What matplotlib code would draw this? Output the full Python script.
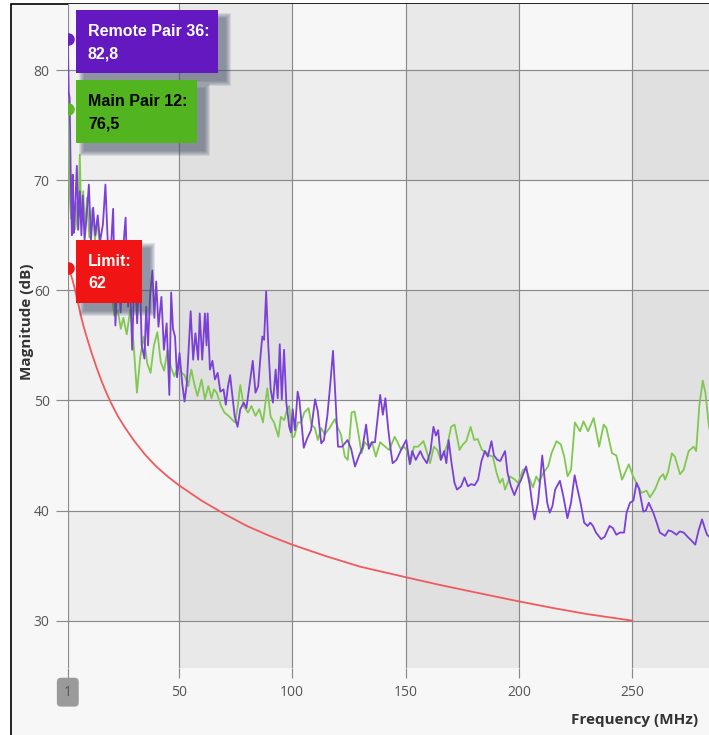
import matplotlib
matplotlib.use("Agg")
import matplotlib.pyplot as plt
from matplotlib.patches import Rectangle

# ---- data ----
remote_freq = [
    1.0, 1.4, 1.8, 2.1, 2.4, 2.8, 3.2, 3.6, 4.2, 5.0, 5.6, 6.3, 7.0, 7.6, 8.4, 9.2,
    10.3, 11.2, 12.2, 13.1, 14.2, 15.2, 16.5, 17.6, 18.6, 19.8, 21.0, 22.0, 23.2, 24.3,
    25.3, 26.5, 27.6, 28.5, 29.4, 30.5, 31.6, 32.6, 33.6, 34.8, 35.6, 36.4, 37.3, 38.3,
    39.2, 40.0, 41.0, 42.3, 43.4, 44.6, 45.8, 46.6, 47.4, 48.3, 49.2, 50.3, 51.5, 52.5,
    53.5, 55.2, 56.3, 57.3, 58.5, 59.2, 60.3, 61.5, 62.2, 62.7, 63.7, 64.8, 65.9, 67.1,
    68.3, 69.7, 70.7, 71.6, 72.6, 73.5, 74.6, 75.9, 77.1, 78.6, 79.8, 81.1, 82.6, 83.8,
    85.0, 86.0, 86.8, 87.6, 88.5, 89.4, 90.5, 91.5, 92.7, 93.6, 94.5, 95.4, 96.4, 97.4,
    98.7, 99.4, 100.2, 101.2, 102.4, 103.2, 105.1, 106.5, 108.3, 110.1, 111.3, 112.8,
    114.0, 115.5, 116.8, 118.0, 119.0, 120.2, 122.0, 124.4, 126.0, 127.7, 129.5, 131.0,
    132.6, 133.8, 135.2, 136.5, 137.8, 138.8, 140.0, 141.1, 142.3, 143.4, 144.3, 146.0,
    148.0, 150.3, 151.9, 152.9, 154.5, 156.5, 157.8, 159.4, 161.0, 162.3, 163.4, 164.4,
    165.6, 167.0, 168.0, 169.0, 170.3, 171.6, 172.7, 174.5, 176.0, 177.5, 179.0, 180.5,
    182.0, 183.5, 185.0, 186.3, 187.9, 189.0, 190.5, 191.8, 193.9, 195.0, 196.5, 198.0,
    199.5, 201.0, 203.2, 204.8, 206.2, 206.9, 208.4, 209.4, 210.3, 211.3, 212.5, 213.6,
    214.8, 216.0, 218.1, 219.6, 221.4, 223.0, 224.6, 225.8, 227.2, 228.8, 230.3, 231.5,
    232.7, 234.0, 236.3, 237.8, 240.0, 241.5, 243.0, 244.6, 246.4, 247.5, 249.0, 250.5,
    251.9, 253.0, 254.9, 256.0, 257.3, 259.3, 260.8, 262.2, 264.5, 266.0, 267.5, 269.5,
    271.0, 272.7, 274.5, 276.0, 277.8, 279.3, 280.8, 282.0, 283.0, 285.2, 287.0,
]
remote_db = [
    82.8, 78.0, 77.5, 73.0, 69.0, 65.0, 70.5, 65.2, 67.5, 71.3, 65.5, 69.0, 65.0, 68.6, 64.5, 66.5,
    69.6, 64.5, 67.5, 65.0, 66.8, 64.4, 66.0, 69.6, 64.5, 63.0, 67.4, 56.8, 62.5, 58.0,
    63.5, 66.6, 58.5, 60.5, 54.6, 62.5, 57.0, 63.0, 55.0, 53.8, 58.5, 55.0, 59.5, 61.8,
    57.5, 60.8, 56.7, 59.4, 54.6, 57.0, 50.5, 59.8, 56.5, 55.8, 52.1, 54.3, 51.5, 49.9,
    51.5, 58.1, 53.7, 56.1, 53.7, 57.9, 53.7, 57.9, 55.0, 57.9, 52.8, 53.6, 51.9, 52.5,
    50.8, 51.0, 49.6, 51.2, 52.3, 50.6, 48.6, 47.6, 49.2, 49.8, 49.3, 51.3, 53.6, 50.7,
    51.3, 54.0, 55.8, 55.5, 59.9, 55.2, 51.0, 49.8, 52.8, 50.2, 55.1, 50.1, 54.6, 49.8,
    47.6, 47.1, 49.2, 47.3, 50.8, 50.0, 45.7, 46.5, 47.3, 50.1, 49.0, 46.1,
    46.4, 48.6, 51.5, 54.5, 50.5, 45.8, 45.8, 46.4, 45.6, 44.0, 45.0, 45.7,
    47.8, 45.6, 46.2, 46.2, 48.6, 50.5, 48.7, 50.2, 47.5, 45.6, 44.3, 44.6,
    45.5, 46.4, 44.2, 45.4, 44.6, 45.4, 44.8, 44.3, 45.4, 47.6, 46.8, 47.3,
    44.6, 45.4, 44.3, 46.4, 44.3, 42.5, 41.9, 42.2, 43.0, 42.2, 42.4, 42.3,
    42.8, 44.5, 45.4, 44.9, 46.3, 45.0, 44.6, 44.5, 45.4, 43.4, 42.2, 41.4,
    42.2, 42.8, 44.0, 42.3, 40.1, 39.2, 40.7, 42.8, 45.0, 43.0, 40.7, 39.8,
    40.4, 41.9, 42.7, 41.3, 39.3, 40.7, 43.2, 42.0, 40.7, 38.9, 38.6, 38.9,
    38.6, 38.0, 37.4, 37.6, 38.6, 38.4, 37.8, 38.0, 38.0, 39.8, 40.7, 40.9,
    42.5, 42.0, 39.9, 40.0, 40.7, 39.8, 38.9, 38.0, 37.7, 38.2, 38.1, 37.8,
    38.1, 38.0, 37.6, 37.3, 36.9, 38.2, 39.2, 38.4, 37.8, 37.4, 37.9,
]

main_freq = [
    1.0, 1.5, 2.0, 2.5, 3.0, 3.5, 4.0, 4.5, 5.0, 5.5, 6.3, 7.0, 7.8, 8.6, 9.5, 10.5,
    11.8, 13.0, 14.0, 15.5, 17.0, 18.5, 20.0, 21.5, 23.0, 24.4, 25.5, 27.0, 28.6, 30.0,
    31.5, 33.0, 34.5, 36.0, 37.5, 39.0, 40.5, 42.0, 43.5, 45.0, 46.5, 48.0, 49.5, 50.5,
    52.5, 54.1, 55.5, 56.8, 58.2, 60.0, 61.5, 63.0, 64.4, 65.5, 66.7, 68.6, 70.1, 71.9,
    73.3, 74.8, 76.0, 77.1, 78.6, 80.5, 82.0, 83.8, 85.5, 87.1, 88.0, 89.0, 90.5, 92.0,
    93.9, 95.0, 96.5, 97.5, 98.7, 99.8, 100.9, 102.5, 104.0, 105.3, 107.2, 108.5, 110.0,
    111.3, 112.8, 114.3, 116.5, 118.8, 120.2, 121.5, 123.2, 124.5, 126.2, 127.5, 128.8,
    130.6, 132.0, 133.5, 135.2, 136.9, 138.8, 141.0, 142.8, 145.2, 146.5, 148.0, 149.2,
    150.5, 152.2, 153.7, 155.5, 157.9, 159.3, 160.8, 162.5, 164.0, 165.5, 167.0, 168.6,
    170.1, 171.6, 172.8, 173.8, 175.3, 176.8, 178.7, 180.3, 181.8, 183.7, 185.5, 187.0,
    188.5, 190.2, 191.6, 192.8, 193.9, 196.1, 198.3, 199.6, 201.8, 203.0, 206.2, 207.7,
    209.0, 210.7, 212.9, 214.4, 216.6, 218.5, 220.0, 221.5, 223.0, 224.7, 227.0, 228.5,
    230.5, 233.0, 235.4, 237.4, 238.6, 241.1, 243.0, 245.5, 248.5, 250.4, 251.9, 254.1,
    256.3, 257.8, 260.0, 262.2, 263.7, 264.5, 265.8, 267.5, 268.8, 271.1, 272.7, 274.9,
    277.1, 278.2, 279.6, 281.1, 282.3, 283.8, 285.3, 286.7,
]
main_db = [
    76.5, 72.0, 68.0, 66.5, 70.0, 66.8, 65.5, 68.0, 66.0, 65.5, 72.3, 65.8, 69.0, 65.5, 68.4, 64.8,
    67.4, 64.6, 66.2, 63.5, 62.5, 63.0, 60.5, 57.7, 58.2, 56.5, 57.5, 56.0, 58.3, 55.2,
    50.7, 54.0, 55.8, 53.4, 52.5, 55.0, 56.2, 53.5, 52.7, 54.6, 53.0, 52.2, 53.0, 52.6,
    52.3, 51.3, 52.8, 51.5, 50.4, 51.9, 50.1, 51.3, 50.2, 51.0, 50.7, 49.5, 48.9, 48.6,
    48.3, 48.0, 49.5, 51.4, 49.5, 48.9, 49.5, 48.6, 49.2, 48.0, 49.5, 51.1, 48.5, 48.0,
    46.7, 48.5, 48.2, 49.0, 49.5, 46.7, 46.7, 48.0, 48.0, 48.9, 49.3, 47.8, 47.5,
    46.4, 47.5, 46.9, 47.5, 48.3, 47.5, 46.9, 44.9, 44.6, 48.9, 49.0, 47.5,
    45.2, 46.2, 45.9, 46.2, 44.9, 46.2, 45.8, 45.5, 46.7, 46.2, 45.5, 45.8,
    45.5, 44.3, 45.8, 45.8, 46.3, 45.4, 44.3, 45.8, 45.5, 44.6, 45.2, 46.1,
    47.6, 47.8, 46.6, 45.5, 46.0, 46.3, 47.6, 46.4, 46.5, 45.5, 45.3, 45.0,
    44.9, 43.4, 42.5, 42.9, 41.9, 43.1, 42.8, 42.5, 43.7, 43.8, 42.1, 43.1,
    42.6, 43.4, 44.0, 45.2, 46.3, 46.0, 44.9, 43.1, 43.7, 48.0, 47.2, 48.1,
    47.2, 48.4, 45.8, 47.8, 47.5, 45.2, 45.0, 42.8, 44.2, 43.1, 42.5, 41.6,
    41.8, 41.2, 41.9, 43.0, 43.3, 42.8, 43.5, 45.2, 44.9, 43.3, 43.7, 45.4,
    45.8, 45.4, 49.5, 51.8, 50.7, 47.7, 46.2, 44.9,
]

limit_freq = [1, 2, 3, 4, 5, 6, 7, 8, 9, 10, 12, 14, 16, 18, 20, 23, 26, 30, 35, 40, 45,
              50, 60, 70, 80, 90, 100, 115, 130, 150, 165, 180, 200, 215, 230, 250]
limit_db = [62.0, 61.6, 61.0, 60.2, 59.3, 58.4, 57.5, 56.7, 56.0, 55.3, 54.0, 52.8, 51.7,
            50.7, 49.8, 48.6, 47.6, 46.4, 45.1, 44.0, 43.1, 42.3, 40.9, 39.7, 38.6, 37.7,
            36.9, 35.85, 34.9, 33.95, 33.25, 32.6, 31.75, 31.15, 30.6, 30.0]

x_ticks = [1, 50, 100, 150, 200, 250]
y_ticks = [30, 40, 50, 60, 70, 80]

# ---- figure in pixel terms ----
W, H = 709, 735


def fx(px):
    return px / W


def fy(py):
    return 1 - py / H


fig = plt.figure(figsize=(W / 100, H / 100), dpi=100, facecolor="white")

# screenshot frame: black line on the left and top
fig.add_artist(Rectangle((fx(11), fy(745)), 1.0, fy(4) - fy(745), transform=fig.transFigure,
                         facecolor="#f7f7f7", edgecolor="black", lw=1.2, zorder=-10))

ax = fig.add_axes([fx(67.8), fy(668), 1 - fx(67.8) + 0.01, fy(4) - fy(668)])
ax.set_xlim(1, 287)
ax.set_ylim(25.7, 86.0)
ax.set_facecolor("#f7f7f7")
for s in ax.spines.values():
    s.set_visible(False)

# checkerboard bands
for x0 in (50, 150, 250):
    ax.axvspan(x0, x0 + 50, color="black", alpha=0.055, lw=0, zorder=0)
for y0 in (30, 50, 70):
    ax.axhspan(y0, y0 + 10, color="black", alpha=0.035, lw=0, zorder=0)

ax.set_xticks(x_ticks)
ax.set_yticks(y_ticks)
ax.grid(True, color="#8a8a8a", lw=0.85, zorder=1)
ax.set_axisbelow(True)
ax.tick_params(axis="y", length=9, width=0.85, color="#8a8a8a", pad=4,
               labelsize=10, labelcolor="#555555")
ax.tick_params(axis="x", length=7, width=0.85, color="#8a8a8a", pad=5,
               labelsize=10, labelcolor="#555555")
for lab in ax.get_xticklabels() + ax.get_yticklabels():
    lab.set_fontfamily("Open Sans")
ax.get_xticklabels()[0].set_bbox(dict(boxstyle="round,pad=0.5,rounding_size=0.3",
                                      fc="#9a9a9a", ec="none"))

ax.plot(limit_freq, limit_db, color="#f05a5e", lw=1.3, zorder=3)
ax.plot(main_freq, main_db, color="#80c850", lw=1.3, zorder=4)
ax.plot(remote_freq, remote_db, color="#7a40d8", lw=1.3, zorder=5)

ax.plot(remote_freq[0], remote_db[0], "o", ms=8, color="#6a1fc8", zorder=6)
ax.plot(main_freq[0], main_db[0], "o", ms=8, color="#5ab82a", zorder=6)
ax.plot(limit_freq[0], limit_db[0], "o", ms=8, color="#f01818", zorder=6)

# value boxes with soft shadows
boxes = [
    (76, 10, 218, 73, "#6419c0", "white", "Remote Pair 36:", f"{remote_db[0]:.1f}".replace(".", ",")),
    (76, 80, 197, 143, "#52b41e", "black", "Main Pair 12:", f"{main_db[0]:.1f}".replace(".", ",")),
    (76, 240, 142, 303, "#f01414", "white", "Limit:", f"{limit_db[0]:.0f}"),
]
for x0, y0, x1, y1, fc, tc, line1, line2 in boxes:
    for g in (5, 4, 3, 2, 1, 0):
        fig.add_artist(Rectangle((fx(x0 + 8 - g), fy(y1 + 8 + g)), fx(x1 - x0 + 2 * g),
                                 fy(y0) - fy(y1 + 2 * g), transform=fig.transFigure,
                                 facecolor="#46506a", edgecolor="none", alpha=0.13, zorder=8))
    fig.add_artist(Rectangle((fx(x0), fy(y1)), fx(x1 - x0), fy(y0) - fy(y1),
                             transform=fig.transFigure, facecolor=fc, edgecolor="none", zorder=9))
    fig.text(fx(x0 + 12), fy(y0 + 21), line1, color=tc, fontsize=11.5, fontweight="bold",
             family="Liberation Sans", va="center", ha="left", zorder=10)
    fig.text(fx(x0 + 12), fy(y0 + 44), line2, color=tc, fontsize=11.5, fontweight="bold",
             family="Liberation Sans", va="center", ha="left", zorder=10)

fig.text(fx(27), fy(322), "Magnitude (dB)", rotation=90, ha="center", va="center",
         fontsize=11, fontweight="bold", color="#333333", family="Open Sans")
fig.text(fx(698), fy(720), "Frequency (MHz)", ha="right", va="center",
         fontsize=11, fontweight="bold", color="#333333", family="Open Sans")

fig.savefig("out.png", dpi=100, facecolor=fig.get_facecolor())
